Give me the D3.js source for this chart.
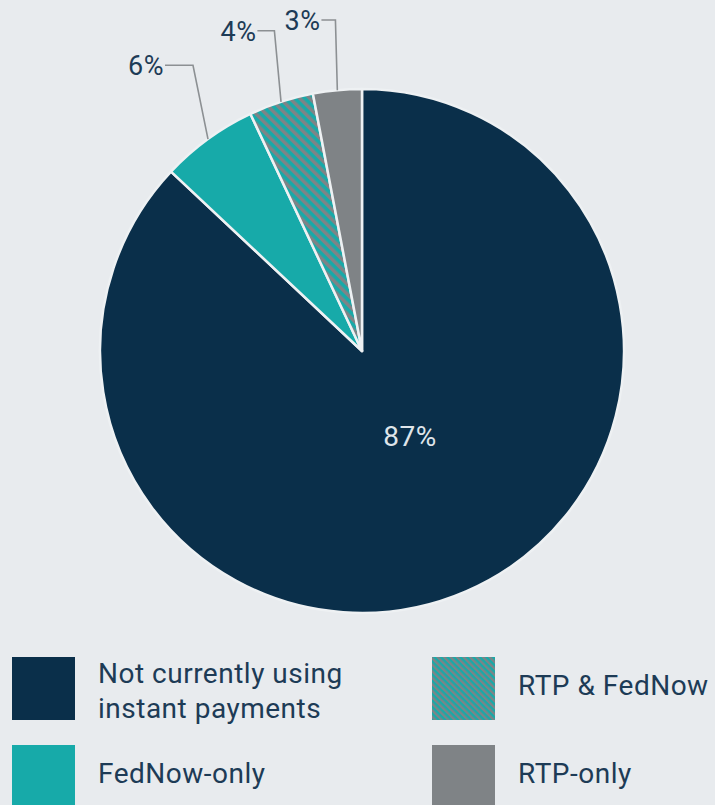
<!DOCTYPE html>
<html><head><meta charset="utf-8">
<script src="https://cdn.jsdelivr.net/npm/d3@7"></script>
<style>
html,body{margin:0;padding:0;background:#e8ebee;}
svg{display:block;font-family:Roboto,"Noto Sans",sans-serif;}
</style></head>
<body>
<svg id="chart" width="715" height="805"></svg>
<script>
const categories = ["Not currently using instant payments", "FedNow-only", "RTP & FedNow", "RTP-only"];
const values = [87, 6, 4, 3];
const valueLabels = ["87%", "6%", "4%", "3%"];
const legendLines = [["Not currently using", "instant payments"], ["FedNow-only"], ["RTP & FedNow"], ["RTP-only"]];
const colors = ["#0a2f4a", "#17aaa9", "url(#hatch)", "#7f8386"];
const legendFills = ["#0a2f4a", "#17aaa9", "url(#hatchSmall)", "#7f8386"];

const svg = d3.select("#chart");
const W = 715, H = 805;
svg.append("rect").attr("width", W).attr("height", H).attr("fill", "#e8ebee");

const defs = svg.append("defs");
function hatch(id, p) {
  const pat = defs.append("pattern").attr("id", id).attr("patternUnits", "userSpaceOnUse")
    .attr("width", p).attr("height", p).attr("patternTransform", "rotate(45)");
  pat.append("rect").attr("width", p).attr("height", p).attr("fill", "#7f8386");
  pat.append("rect").attr("width", p).attr("height", p / 2).attr("fill", "#17aaa9");
}
hatch("hatch", 7);
hatch("hatchSmall", 4.6);

const cx = 362, cy = 351, R = 262;
const pie = d3.pie().sort(null).value(d => d)(values);
const arc = d3.arc().innerRadius(0).outerRadius(R);
const g = svg.append("g").attr("transform", `translate(${cx},${cy})`);

g.selectAll("path.slice").data(pie).join("path")
  .attr("class", "slice")
  .attr("d", arc)
  .attr("fill", (d, i) => colors[i])
  .attr("stroke", "#eef1f3").attr("stroke-width", 2.5).attr("stroke-linejoin", "round");

// inner label for big slice
const big = pie[0];
const bigAng = (big.startAngle + big.endAngle) / 2 - 6 * Math.PI / 180;
const bigR = 98;
g.append("text")
  .attr("x", bigR * Math.sin(bigAng)).attr("y", -bigR * Math.cos(bigAng))
  .attr("text-anchor", "middle").attr("dominant-baseline", "central")
  .attr("font-size", 28).attr("letter-spacing", 0.5).attr("fill", "#dfe5ea")
  .text(valueLabels[0]);

// outer labels with leader lines
pie.slice(1).forEach((d, k) => {
  const i = k + 1;
  const mid = (d.startAngle + d.endAngle) / 2;
  const p0 = [R * Math.sin(mid), -R * Math.cos(mid)];
  const a2 = mid - 2 * Math.PI;
  const ea = a2 * 0.85;
  const er = 332;
  const p1 = [er * Math.sin(ea), -er * Math.cos(ea)];
  const hl = i === 1 ? 28 : (i === 2 ? 17 : 14);
  const p2 = [p1[0] - hl, p1[1]];
  g.append("path")
    .attr("d", d3.line()([p0, p1, p2]))
    .attr("fill", "none").attr("stroke", "#8c9093").attr("stroke-width", 1.6);
  g.append("text")
    .attr("x", p2[0] - 1).attr("y", p2[1] + 1)
    .attr("text-anchor", "end").attr("dominant-baseline", "central")
    .attr("font-size", 27).attr("letter-spacing", 0.5).attr("fill", "#1d3b56")
    .text(valueLabels[i]);
});

// legend
const legendPos = [[12, 657], [12, 745], [432, 657], [432, 745]];
const lg = svg.append("g");
categories.forEach((c, i) => {
  const [x, y] = legendPos[i];
  lg.append("rect").attr("x", x).attr("y", y).attr("width", 63).attr("height", 63)
    .attr("fill", legendFills[i]);
  const lines = legendLines[i];
  const t = lg.append("text").attr("font-size", 28).attr("letter-spacing", 0.5).attr("fill", "#1d3b56");
  if (lines.length === 2) {
    lines.forEach((ln, j) => t.append("tspan").attr("x", x + 86).attr("y", y + 26 + j * 35).text(ln));
  } else {
    t.attr("x", x + 86).attr("y", y + 38).text(lines[0]);
  }
});
</script>
</body></html>
